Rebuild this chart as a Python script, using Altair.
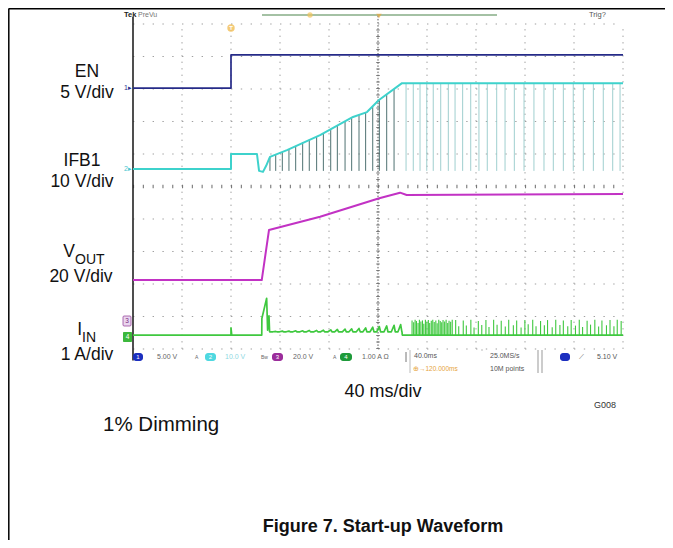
import altair as alt
import pandas as pd

FONT = "Liberation Sans"

# ---------------- data (time in ms, 40 ms/div; level in screen divisions) ----------------
EN_T = [0, 80, 80, 400]
EN_V = [8.03, 8.03, 9.05, 9.05]

IFB_T = [0, 80, 80, 101.2, 102.9, 106.1, 108.6, 111.8, 125.7, 152.7, 179.6, 191.0, 200.8, 219.6, 400]
IFB_V = [5.54, 5.54, 6.0, 6.0, 5.48, 5.45, 5.63, 5.91, 6.12, 6.58, 7.14, 7.29, 7.66, 8.18, 8.18]

IFB_RAMP_SPIKE_T = [111.8, 116.5, 121.9, 127.3, 132.8, 138.5, 143.9, 149.9, 155.4, 161.4, 166.8,
                    173.1, 178.5, 184.5, 189.9, 195.7, 201.1, 207.1, 213.1]
IFB_RAMP_SPIKE_TOP = [5.91, 5.98, 6.06, 6.15, 6.25, 6.36, 6.44, 6.53, 6.64, 6.76, 6.87,
                      7.0, 7.12, 7.22, 7.28, 7.45, 7.67, 7.84, 8.0]
IFB_FLAT_SPIKE_T = [222.9, 228.8, 234.3, 239.8, 245.1, 251.2, 257.4, 262.9, 269.1, 275.7, 282.4,
                    289.2, 296.9, 303.7, 311.3, 319.2, 327.3, 335.5, 343.1, 351.3, 359.4, 367.6,
                    375.8, 383.9, 391.6, 397.6]
IFB_FLAT_TOP = 8.18
IFB_SPIKE_BOTTOM = 5.48

VOUT_T = [0, 105.1, 111.0, 152.7, 201.0, 218.0, 223.4, 400]
VOUT_V = [2.12, 2.12, 3.66, 4.07, 4.64, 4.81, 4.74, 4.77]

IIN_START_T = [0, 80, 80, 80.6, 105.1, 105.2, 109.1, 109.9, 111.0, 111.5]
IIN_START_V = [0.43, 0.43, 0.65, 0.43, 0.43, 0.94, 1.56, 0.58, 1.02, 0.53]
IIN_RIPPLE_T = [116.5, 121.9, 127.3, 132.8, 138.5, 143.9, 149.9, 155.4, 161.4, 166.8,
                173.1, 178.5, 184.5, 189.9, 195.7, 201.1, 207.1, 213.1, 218.5]
IIN_RIPPLE_PEAK = [0.54, 0.55, 0.55, 0.56, 0.56, 0.57, 0.57, 0.58, 0.59, 0.60,
                   0.61, 0.62, 0.63, 0.65, 0.67, 0.69, 0.71, 0.73, 0.75]
IIN_RIPPLE_BASE = 0.53
IIN_END_T = [219.6, 219.8, 400]
IIN_END_V = [0.53, 0.43, 0.43]

IIN_SPIKE_T = [227.8, 229.1, 230.3, 231.4, 232.7, 233.8, 235.0, 236.3, 237.4, 238.7, 239.9, 241.1,
               242.2, 243.5, 244.7, 245.9, 247.2, 248.3, 249.6, 250.8, 252.0, 253.1, 254.4, 255.6,
               256.9, 258.0, 259.3, 260.6,
               263.4, 265.9, 269.6, 272.1, 275.8, 278.4, 281.9, 284.7, 288.1, 290.6, 294.4, 297.2,
               300.6, 303.9, 306.7, 310.5, 313.2, 316.8, 319.9, 322.6, 326.3, 329.0, 332.7, 335.8,
               338.4, 342.2, 345.1, 348.5, 351.3, 354.9, 357.7, 361.2, 364.3, 367.0, 370.7, 373.5,
               377.0, 380.1, 382.8, 386.5, 389.4, 392.6, 395.3, 398.5]
IIN_SPIKE_H = [0.88, 0.82, 0.90, 0.86, 0.80, 0.90, 0.85, 0.88, 0.78, 0.90, 0.84, 0.89,
               0.80, 0.87, 0.90, 0.83, 0.88, 0.79, 0.90, 0.86, 0.82, 0.89, 0.85, 0.90,
               0.80, 0.87, 0.84, 0.90,
               0.89, 0.70, 0.88, 0.72, 0.90, 0.66, 0.86, 0.74, 0.89, 0.68, 0.90, 0.75,
               0.87, 0.69, 0.90, 0.73, 0.88, 0.66, 0.89, 0.76, 0.90, 0.70, 0.86, 0.73,
               0.89, 0.67, 0.90, 0.74, 0.88, 0.70, 0.89, 0.72, 0.90, 0.68, 0.87, 0.75,
               0.90, 0.69, 0.88, 0.73, 0.89, 0.70, 0.90, 0.86]
IIN_BASE = 0.43

GRID_T = [0, 40, 80, 120, 160, 240, 280, 320, 360, 400]
GRID_V = [0, 1, 2, 3, 4, 6, 7, 8, 9, 10]

# ---------------- helpers ----------------
XS = alt.Scale(domain=[0, 400], nice=False, zero=False)
YS = alt.Scale(domain=[0, 10], nice=False, zero=False)
ONE = pd.DataFrame({"k": [0]})


def X(f="t"):
    return alt.X(f"{f}:Q", scale=XS, axis=None)


def Y(f="v"):
    return alt.Y(f"{f}:Q", scale=YS, axis=None)


def trace(ts, vs, color, width):
    df = pd.DataFrame({"t": ts, "v": vs, "i": list(range(len(ts)))})
    return alt.Chart(df).mark_line(color=color, strokeWidth=width, strokeJoin="round").encode(
        x=X(), y=Y(), order=alt.Order("i:Q"))


def spikes(ts, tops, bots, color, width=1.0, opacity=1.0):
    df = pd.DataFrame({"t": ts, "top": tops, "bot": bots})
    return alt.Chart(df).mark_rule(color=color, strokeWidth=width, opacity=opacity).encode(
        x=X(), y=Y("top"), y2=alt.Y2("bot:Q"))


def txt(s, x, y, size=8, color="#555", align="left", weight="normal", font=FONT, baseline="middle"):
    return alt.Chart(ONE).mark_text(text=s, align=align, baseline=baseline, fontSize=size,
                                    color=color, fontWeight=weight, font=font).encode(
        x=alt.value(x), y=alt.value(y))


def box(x1, x2, y1, y2, fill, stroke=None, r=2):
    kw = dict(color=fill, cornerRadius=r)
    if stroke:
        kw.update(stroke=stroke, strokeWidth=0.8)
    return alt.Chart(ONE).mark_rect(**kw).encode(
        x=alt.value(x1), x2=alt.value(x2), y=alt.value(y1), y2=alt.value(y2))


def line(x1, x2, y1, y2, color="#000", width=1.0, dash=None):
    kw = dict(color=color, strokeWidth=width)
    if dash:
        kw["strokeDash"] = dash
    return alt.Chart(ONE).mark_rule(**kw).encode(
        x=alt.value(x1), x2=alt.value(x2), y=alt.value(y1), y2=alt.value(y2))


layers = []

# ---------------- graticule ----------------
vgrid = pd.DataFrame({"t": GRID_T[1:], "a": 0, "b": 10})
layers.append(alt.Chart(vgrid).mark_rule(color="#a0a0a0", strokeWidth=1, strokeDash=[1.4, 5.1]).encode(
    x=X(), y=alt.Y("a:Q", scale=YS, axis=None), y2="b:Q"))
hgrid = pd.DataFrame({"v": GRID_V, "a": 0, "b": 400})
layers.append(alt.Chart(hgrid).mark_rule(color="#a0a0a0", strokeWidth=1.2, strokeDash=[1.4, 8.4]).encode(
    y=Y(), x=alt.X("a:Q", scale=XS, axis=None), x2="b:Q"))
# centre cross with minor ticks
cx = pd.DataFrame({"t": [200], "a": [0], "b": [10.28]})
layers.append(alt.Chart(cx).mark_rule(color="#555", strokeWidth=1, strokeDash=[1.5, 1.6]).encode(
    x=X(), y=alt.Y("a:Q", scale=YS, axis=None), y2="b:Q"))
layers.append(alt.Chart(pd.DataFrame({"t": [200], "a": [0], "b": [10]})).mark_rule(
    color="#777", strokeWidth=3.5, strokeDash=[1.0, 5.5]).encode(
    x=X(), y=alt.Y("a:Q", scale=YS, axis=None), y2="b:Q"))
cy = pd.DataFrame({"v": [5], "a": [0], "b": [400]})
layers.append(alt.Chart(cy).mark_rule(color="#777", strokeWidth=3.5, strokeDash=[1.1, 8.7]).encode(
    y=Y(), x=alt.X("a:Q", scale=XS, axis=None), x2="b:Q"))
# solid left edge of the screen
layers.append(alt.Chart(pd.DataFrame({"t": [0], "a": [-0.35], "b": [10.22]})).mark_rule(
    color="#222", strokeWidth=1.6).encode(x=X(), y=alt.Y("a:Q", scale=YS, axis=None), y2="b:Q"))

# ---------------- traces ----------------
layers.append(spikes(IFB_RAMP_SPIKE_T, IFB_RAMP_SPIKE_TOP, [IFB_SPIKE_BOTTOM] * len(IFB_RAMP_SPIKE_T),
                     "#4f7272", 1.0))
layers.append(spikes(IFB_FLAT_SPIKE_T, [IFB_FLAT_TOP] * len(IFB_FLAT_SPIKE_T),
                     [IFB_SPIKE_BOTTOM] * len(IFB_FLAT_SPIKE_T), "#9fcfcf", 1.0))
layers.append(spikes(IIN_SPIKE_T, IIN_SPIKE_H, [IIN_BASE] * len(IIN_SPIKE_T), "#3fc83f", 1.1))

iin_t, iin_v = list(IIN_START_T), list(IIN_START_V)
for t, p in zip(IIN_RIPPLE_T, IIN_RIPPLE_PEAK):
    iin_t += [t - 2.2, t, t + 1.0]
    iin_v += [IIN_RIPPLE_BASE, p, IIN_RIPPLE_BASE]
iin_t += IIN_END_T
iin_v += IIN_END_V

layers.append(trace(EN_T, EN_V, "#262b88", 1.7))
layers.append(trace(IFB_T, IFB_V, "#3ed2cc", 2.0))
layers.append(trace(VOUT_T, VOUT_V, "#c232c4", 2.0))
layers.append(trace(iin_t, iin_v, "#3fc83f", 1.7))

# ---------------- scope header ----------------
layers.append(txt("Tek", -9, -9, 7.5, "#222", weight="bold"))
layers.append(txt("PreVu", 5, -9, 7, "#777"))
layers.append(txt("Trig?", 456, -9, 7.5, "#555"))
layers.append(line(129, 364, -9, -9, "#86ad86", 1.5))
layers.append(alt.Chart(ONE).mark_point(shape="triangle-down", filled=True, color="#e7a73a", size=30).encode(
    x=alt.value(246), y=alt.value(-8)))
layers.append(alt.Chart(ONE).mark_point(shape="circle", filled=True, color="#f1c35a", size=28).encode(
    x=alt.value(177), y=alt.value(-9)))
layers.append(alt.Chart(ONE).mark_point(shape="circle", filled=True, color="#f0b43c", size=55).encode(
    x=alt.value(98), y=alt.value(4)))
layers.append(txt("T", 98, 4, 6, "#fff", align="center", weight="bold"))

# channel markers
layers.append(txt("1▸", -1, 64, 7, "#2b2f8f", align="right"))
layers.append(txt("2▸", -1, 145, 7, "#4ac6d0", align="right"))
layers.append(box(-10, -2, 292, 302, "#ead6ef", "#9a4aa0", 1))
layers.append(txt("3", -6, 297, 6.5, "#7a2a80", align="center"))
layers.append(box(-10, -1, 308, 318, "#3cb83c", None, 1))
layers.append(txt("4", -5.5, 313, 6.5, "#ffffff", align="center"))

# status bar
SB1, SB2 = 333, 345
layers.append(box(0, 10, 329, 337, "#1c2fbf", None, 3))
layers.append(txt("1", 5, SB1, 6, "#fff", align="center"))
layers.append(txt("5.00 V", 24, SB1, 7, "#666"))
layers.append(txt("A", 62, SB1, 5, "#666"))
layers.append(box(72, 83, 329, 337, "#4fd8e0", None, 3))
layers.append(txt("2", 77.5, SB1, 6, "#fff", align="center"))
layers.append(txt("10.0 V", 92, SB1, 7, "#8fd8df"))
layers.append(txt("Bw", 128, SB1, 5, "#666"))
layers.append(box(139, 150, 329, 337, "#9b2d9b", None, 3))
layers.append(txt("3", 144.5, SB1, 6, "#fff", align="center"))
layers.append(txt("20.0 V", 160, SB1, 7, "#666"))
layers.append(txt("A", 200, SB1, 5, "#666"))
layers.append(box(207, 219, 329, 337, "#1e9a3a", None, 3))
layers.append(txt("4", 213, SB1, 6, "#fff", align="center"))
layers.append(txt("1.00 A Ω", 229, SB1, 7, "#666"))
layers.append(line(273, 273, 328, 338, "#777", 1))
layers.append(line(277, 277, 326, 349, "#bbb", 1))
layers.append(txt("40.0ms", 281, SB1 - 1, 7, "#555"))
layers.append(txt("⊕→120.000ms", 280, SB2, 6.5, "#e6a43e"))
layers.append(line(348, 350, 326, 326, "#bbb", 1))
layers.append(txt("25.0MS/s", 357, SB1 - 1, 7, "#555"))
layers.append(txt("10M points", 357, SB2, 7, "#555"))
layers.append(line(405, 405, 326, 349, "#999", 1))
layers.append(line(409, 409, 326, 349, "#999", 1))
layers.append(box(427, 437, 329, 337, "#1c2fbf", None, 3))
layers.append(txt("⟋", 446, SB1, 7, "#555"))
layers.append(txt("5.10 V", 464, SB1, 7, "#555"))

# ---------------- figure annotations ----------------
LBL = 17.5
layers.append(txt("EN", -46, 48, LBL, "#111", align="center"))
layers.append(txt("5 V/div", -46, 69, LBL, "#111", align="center"))
layers.append(txt("IFB1", -51, 137, LBL, "#111", align="center"))
layers.append(txt("10 V/div", -51, 158, LBL, "#111", align="center"))
layers.append(txt("V", -58, 228, LBL, "#111", align="right"))
layers.append(txt("OUT", -58, 236, 14, "#111", align="left"))
layers.append(txt("20 V/div", -52, 253, LBL, "#111", align="center"))
layers.append(txt("I", -51, 306, LBL, "#111", align="right"))
layers.append(txt("IN", -51, 314, 14, "#111", align="left"))
layers.append(txt("1 A/div", -46, 331, LBL, "#111", align="center"))

layers.append(txt("40 ms/div", 250, 368, 18, "#111", align="center"))
layers.append(txt("G008", 472, 381, 9, "#333", align="center"))
layers.append(txt("1% Dimming", -30, 401, 20.5, "#111"))
layers.append(txt("Figure 7. Start-up Waveform", 250, 508, 18, "#111", align="center",
                  weight="bold", baseline="alphabetic"))

# outer frame (top and left rules)
layers.append(line(-124.5, 532, -15.2, -15.2, "#000", 1.5))
layers.append(line(-124.2, -124.2, -15.2, 520, "#000", 1.5))

chart = alt.layer(*layers).properties(
    width=490, height=325,
    padding={"left": 125, "top": 16, "right": 42, "bottom": 191},
    autosize=alt.AutoSizeParams(type="none"),
    background="white",
).configure_view(stroke=None)

chart.save("out.html", embed_options={"renderer": "svg", "actions": False})
